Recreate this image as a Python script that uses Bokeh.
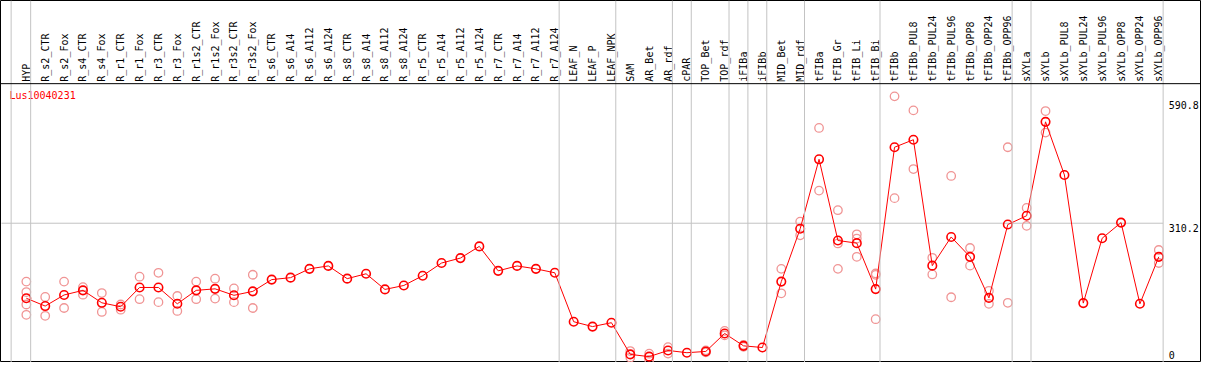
import math
from bokeh.plotting import figure
from bokeh.models import Range1d, Span
from bokeh.core.properties import value
from bokeh.embed import file_html
from bokeh.resources import INLINE

# ---------------- data ----------------
gene = "Lus10040231"

samples = [
    "HYP", "R_s2_CTR", "R_s2_Fox", "R_s4_CTR", "R_s4_Fox", "R_r1_CTR", "R_r1_Fox",
    "R_r3_CTR", "R_r3_Fox", "R_r1s2_CTR", "R_r1s2_Fox", "R_r3s2_CTR", "R_r3s2_Fox",
    "R_s6_CTR", "R_s6_A14", "R_s6_A112", "R_s6_A124", "R_s8_CTR", "R_s8_A14",
    "R_s8_A112", "R_s8_A124", "R_r5_CTR", "R_r5_A14", "R_r5_A112", "R_r5_A124",
    "R_r7_CTR", "R_r7_A14", "R_r7_A112", "R_r7_A124", "LEAF_N", "LEAF_P", "LEAF_NPK",
    "SAM", "AR_Bet", "AR_rdf", "cPAR", "TOP_Bet", "TOP_rdf", "iFIBa", "iFIBb",
    "MID_Bet", "MID_rdf", "tFIBa", "tFIB_Gr", "tFIB_Li", "tFIB_Bi", "tFIBb",
    "tFIBb_PUL8", "tFIBb_PUL24", "tFIBb_PUL96", "tFIBb_OPP8", "tFIBb_OPP24",
    "tFIBb_OPP96", "sXYLa", "sXYLb", "sXYLb_PUL8", "sXYLb_PUL24", "sXYLb_PUL96",
    "sXYLb_OPP8", "sXYLb_OPP24", "sXYLb_OPP96",
]

means = [
    144.3, 127.0, 151.5, 161.7, 134.2, 125.5, 168.1, 168.1, 132.0, 161.7, 165.1,
    150.8, 159.5, 185.5, 189.8, 209.3, 215.8, 187.6, 198.4, 163.8, 172.5, 194.1,
    222.2, 233.1, 259.0, 204.9, 215.8, 209.3, 200.6, 92.4, 81.6, 90.2, 20.1, 15.1,
    28.8, 23.8, 26.6, 66.4, 39.0, 35.3, 181.1, 298.0, 451.6, 272.0, 266.2, 164.5,
    478.3, 494.9, 216.4, 279.8, 235.9, 145.0, 307.3, 326.8, 534.5, 417.0, 133.5,
    277.0, 311.6, 132.0, 235.9,
]

replicates = [
    [181.1, 158.0, 130.5, 107.6], [147.2, 105.4], [181.1, 122.7], [168.8, 152.1],
    [155.8, 114.0], [130.5, 119.0], [191.9, 142.2], [200.6, 135.7], [149.3, 116.2],
    [181.1, 142.2], [187.6, 143.5], [166.0, 135.7], [196.3, 122.7],
    [], [], [], [], [], [], [], [], [], [], [], [], [], [], [], [],
    [], [], [],
    [27.5, 13.0], [21.6, 8.0], [36.0, 22.0], [], [29.0, 24.5], [72.1, 62.1],
    [41.0, 37.0], [], [209.3, 155.2], [313.8, 283.5], [520.9, 382.4],
    [339.1, 265.5, 209.3], [285.7, 276.3, 235.9], [199.0, 196.0, 98.0],
    [590.8, 365.7], [559.8, 430.0], [233.7, 196.9], [414.8, 146.5], [255.4, 216.4],
    [160.8, 132.0], [478.3, 134.2], [344.1, 304.5], [558.3, 510.7],
    [], [], [], [], [], [251.0, 222.2],
]

group_last = ["HYP", "R_r7_A124", "LEAF_NPK", "AR_rdf", "cPAR", "TOP_rdf", "iFIBa",
              "iFIBb", "MID_rdf", "tFIB_Bi", "tFIBb_OPP96", "sXYLa", "sXYLb_OPP96"]

y_ticks = [0, 310.2, 590.8]
y_tick_labels = ["0", "310.2", "590.8"]

# ---------------- layout (reference pixel geometry) ----------------
REF_W, REF_H = 1209, 370
COL0, COL_STEP = 26.0, 19.0          # x pixel of first column, column pitch
ZERO_ROW, PX_PER_UNIT = 371.0, 0.4621  # y pixel of value 0, pixels per unit


def col(px):
    return (px - COL0) / COL_STEP


def val(py):
    return (ZERO_ROW - py) / PX_PER_UNIT


W, H = 1201, 362
FONT = value("DejaVu Sans Mono")

p = figure(width=W, height=H,
           x_range=Range1d(col(0), col(REF_W)),
           y_range=Range1d(val(REF_H), val(0)),
           output_backend="svg", toolbar_location=None, min_border=0)
p.axis.visible = False
p.grid.visible = False
p.outline_line_color = "black"
p.outline_line_width = 1
p.background_fill_color = "white"
p.border_fill_color = "white"

# group separators
sep_x = [col(10.7)] + [samples.index(s) + 0.23 for s in group_last]
for sx in sep_x:
    p.add_layout(Span(location=sx, dimension="height", line_color="#c3c3c3", line_width=1))

# header line
p.add_layout(Span(location=val(85), dimension="width", line_color="black", line_width=1))

# horizontal grid line at middle tick
p.segment(x0=[col(1)], y0=[y_ticks[1]], x1=[sep_x[-1]], y1=[y_ticks[1]],
          line_color="#c3c3c3", line_width=1)

# sample labels (vertical)
n = len(samples)
xs = list(range(n))
p.text(x=xs, y=[val(83)] * n, text=samples, angle=math.pi / 2,
       text_align="left", text_baseline="middle", text_font=FONT,
       text_font_size="10px", text_color="black")

# gene title
p.text(x=[col(9)], y=[val(97)], text=[gene], text_align="left",
       text_baseline="middle", text_font=FONT, text_font_size="10px",
       text_color="red")

# value labels at right
label_shift_px = [-9.0, 4.6, 8.8]
p.text(x=[col(1176)] * 3,
       y=[t - s / PX_PER_UNIT for t, s in zip(y_ticks, label_shift_px)],
       text=y_tick_labels, text_align="left", text_baseline="middle",
       text_font=FONT, text_font_size="10px", text_color="black")

# replicates
rx, ry = [], []
for i, reps in enumerate(replicates):
    for r in reps:
        rx.append(i)
        ry.append(r)
p.scatter(rx, ry, marker="circle", size=8.5, fill_color=None,
          line_color="#f09595", line_width=1.3)

# means
p.line(xs, means, line_color="red", line_width=1)
p.scatter(xs, means, marker="circle", size=8.5, fill_color=None,
          line_color="red", line_width=1.6)

open("out.html", "w").write(file_html(p, INLINE))
